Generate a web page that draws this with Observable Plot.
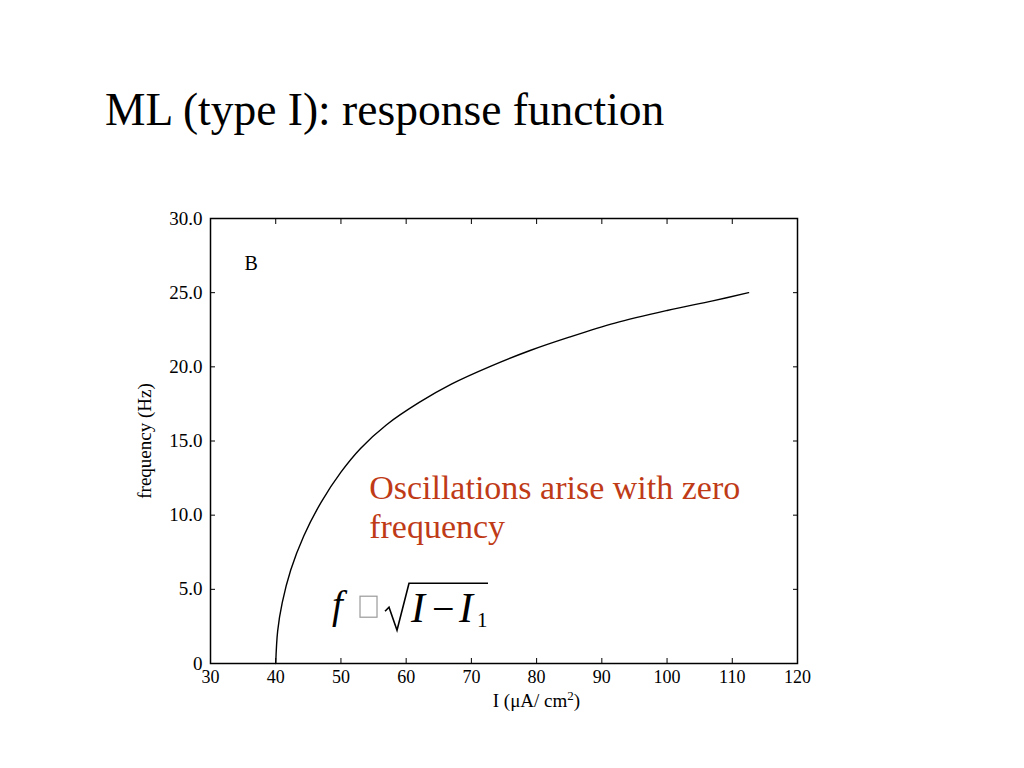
<!DOCTYPE html>
<html><head><meta charset="utf-8">
<script src="https://cdn.jsdelivr.net/npm/d3@7"></script>
<script src="https://cdn.jsdelivr.net/npm/@observablehq/plot@0.6"></script>
<style>
body{margin:0;background:#fff;width:1024px;height:768px;position:relative;overflow:hidden;font-family:"Liberation Serif","Times New Roman",serif}
#title{position:absolute;left:105px;top:87px;font-size:45.5px;line-height:1;color:#000;white-space:nowrap}
#chart{position:absolute;left:0;top:170px}
</style></head><body>
<div id="title">ML (type I): response function</div>
<div id="chart"></div>
<script>
// Data (I in µA/cm², frequency in Hz)
const current   = [40, 40.3, 41, 42.3, 44.3, 47, 50, 53, 57, 62, 67, 73, 79, 85, 92, 100, 107, 112.5];
const frequency = [0, 2.2, 4.1, 6.3, 8.6, 10.9, 12.9, 14.5, 16.1, 17.6, 18.85, 20.05, 21.1, 22.0, 22.95, 23.8, 24.45, 25.0];
const xTicks = [30, 40, 50, 60, 70, 80, 90, 100, 110, 120];
const yTicks = [0, 5, 10, 15, 20, 25, 30];
const yTickLabels = ["0", "5.0", "10.0", "15.0", "20.0", "25.0", "30.0"];
const xLabelMain = "I (μA/ cm";
const xLabelSup = "2";
const xLabelEnd = ")";
const yLabel = "frequency (Hz)";
const panelLabel = "B";
const noteLines = ["Oscillations arise with zero", "frequency"];
const noteColor = "#bf3b17";

const data = current.map((I, i) => ({I, f: frequency[i]}));
const font = "Liberation Serif, Times New Roman, serif";

const chart = Plot.plot({
  width: 1024,
  height: 560,
  marginLeft: 210,
  marginRight: 227,
  marginTop: 48,
  marginBottom: 67,
  style: {fontFamily: font, fontSize: "18px", color: "#000", background: "transparent"},
  x: {domain: [30, 120]},
  y: {domain: [0, 30]},
  marks: [
    Plot.frame({stroke: "#000", strokeWidth: 1.5}),
    Plot.axisX({anchor: "bottom", ticks: xTicks, tickSize: -5, tickPadding: 12, tickFormat: d => String(d),
      label: null, fontSize: 18}),
    Plot.axisX({anchor: "top", ticks: xTicks, tickSize: -5, tickFormat: () => "", label: null}),
    Plot.axisY({anchor: "left", ticks: yTicks, tickSize: -5, tickPadding: 13,
      tickFormat: d => yTickLabels[yTicks.indexOf(d)],
      label: yLabel, labelAnchor: "center", labelArrow: "none", labelOffset: 73, fontSize: 19}),
    Plot.axisY({anchor: "right", ticks: yTicks, tickSize: -5, tickFormat: () => "", label: null}),
    Plot.line(data, {x: "I", y: "f", stroke: "#000", strokeWidth: 1.4, curve: "catmull-rom"})
  ]
});
document.getElementById("chart").appendChild(chart);

// Annotations placed through the plot's own scales
const sx = chart.scale("x"), sy = chart.scale("y");
const svg = d3.select(chart);
const g = svg.append("g").attr("font-family", font).attr("text-anchor", "start");

// x-axis title with superscript
const xl = g.append("text").attr("x", sx.apply(73.35)).attr("y", sy.apply(0) + 44)
  .attr("font-size", 19).attr("fill", "#000");
xl.append("tspan").text(xLabelMain);
xl.append("tspan").attr("font-size", 13).attr("dy", -7).text(xLabelSup);
xl.append("tspan").attr("dy", 7).text(xLabelEnd);

g.append("text").attr("x", sx.apply(35.3)).attr("y", sy.apply(26.5))
  .attr("font-size", 20).attr("fill", "#000").text(panelLabel);

noteLines.forEach((t, i) => {
  g.append("text").attr("x", sx.apply(54.4)).attr("y", sy.apply(11.05) + i * 39)
    .attr("font-size", 34).attr("fill", noteColor).text(t);
});

// formula  f ⎕ √(I − I₁)
const fx = sx.apply(48.4), fy = sy.apply(2.75);
const fg = g.append("g").attr("transform", `translate(${fx},${fy})`).attr("fill", "#000");
fg.append("text").attr("x", 2).attr("y", -4).attr("font-size", 39).attr("font-style", "italic").text("f");
fg.append("rect").attr("x", 30).attr("y", -26).attr("width", 17).attr("height", 21)
  .attr("fill", "none").attr("stroke", "#9a9a9a").attr("stroke-width", 1.2);
fg.append("path").attr("d", "M55,-11 L59,-15 L67,8 L79,-39 L158,-39")
  .attr("fill", "none").attr("stroke", "#000").attr("stroke-width", 1.6);
fg.append("text").attr("x", 81).attr("y", 0).attr("font-size", 42).attr("font-style", "italic").text("I");
fg.append("text").attr("x", 102).attr("y", 0).attr("font-size", 40).text("−");
fg.append("text").attr("x", 129).attr("y", 0).attr("font-size", 42).attr("font-style", "italic").text("I");
fg.append("text").attr("x", 147).attr("y", 5).attr("font-size", 21).text("1");
</script>
</body></html>
